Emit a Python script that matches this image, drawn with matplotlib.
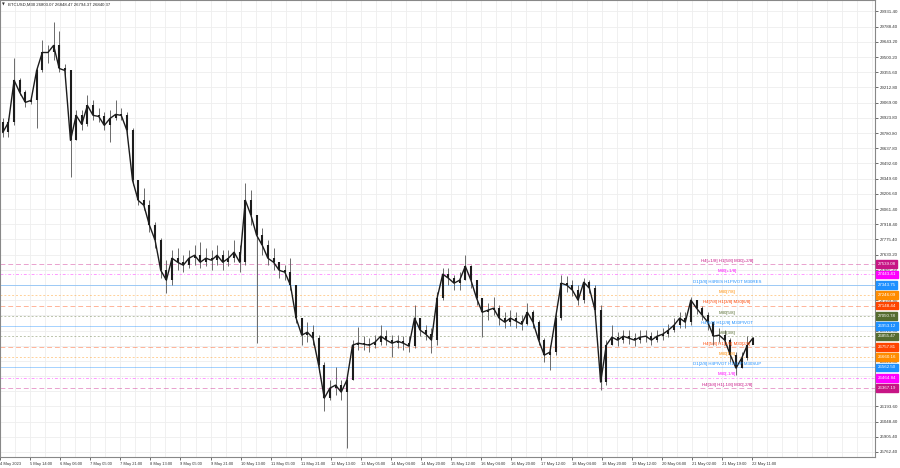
import matplotlib
matplotlib.use("Agg")
import matplotlib.pyplot as plt
import matplotlib.transforms as mtransforms

# ---------------- data ----------------
chart_title = "BTCUSD,M30 26803.07 26848.47 26794.37 26840.37"

bars_per_candle = 6          # each drawn candle aggregates 6 M30 bars (3 hours)
first_open = 28882

close = [28787, 28882, 29279, 29165, 29071, 29090, 29373, 29543, 29543, 29610,
         29392, 29373, 28711, 28948, 28863, 29042, 28948, 28938, 28853, 28919,
         28957, 28948, 28806, 28333, 28144, 28097, 27908, 27766, 27482, 27388,
         27596, 27558, 27530, 27596, 27624, 27558, 27596, 27577, 27624, 27558,
         27596, 27653, 27558, 28144, 28002, 27813, 27719, 27596, 27558, 27482,
         27464, 27341, 27029, 26868, 26896, 26840, 26584, 26272, 26367, 26395,
         26329, 26442, 26773, 26792, 26783, 26773, 26802, 26858, 26821, 26792,
         26811, 26792, 26764, 27029, 26915, 26877, 26821, 27218, 27445, 27407,
         27360, 27388, 27520, 27388, 27218, 27085, 27104, 27123, 27029, 26991,
         27029, 27000, 26972, 27085, 26991, 26821, 26679, 26707, 27029, 27360,
         27341, 27293, 27199, 27369, 27312, 27104, 26424, 26773, 26849, 26821,
         26858, 26840, 26821, 26849, 26858, 26821, 26858, 26877, 26915, 26962,
         27029, 26991, 27199, 27123, 27057, 26991, 26858, 26868, 26821, 26679,
         26556, 26650, 26773, 26840.37]
high = [28919, 28919, 29487, 29298, 29184, 29127, 29392, 29657, 29610, 29827,
        29751, 29430, 29373, 28995, 28995, 29137, 29090, 29014, 28976, 28995,
        29090, 29014, 28976, 28825, 28305, 28258, 28144, 27936, 27785, 27577,
        27671, 27690, 27624, 27671, 27719, 27747, 27690, 27671, 27719, 27671,
        27671, 27766, 27719, 28305, 28239, 28002, 27879, 27766, 27690, 27558,
        27530, 27596, 27341, 27029, 26991, 26962, 26868, 26613, 26442, 26565,
        26442, 26490, 26821, 26944, 26858, 26840, 26868, 26962, 26915, 26868,
        26868, 26858, 26858, 27152, 27029, 26962, 26934, 27274, 27501, 27501,
        27435, 27464, 27624, 27530, 27388, 27199, 27170, 27227, 27152, 27085,
        27104, 27085, 27057, 27170, 27104, 27010, 26840, 26773, 27085, 27435,
        27426, 27388, 27341, 27407, 27388, 27341, 27152, 26821, 26962, 26896,
        26915, 26915, 26887, 26915, 26915, 26896, 26915, 26934, 26972, 27029,
        27085, 27085, 27227, 27199, 27142, 27085, 26991, 26934, 26915, 26840,
        26707, 26707, 26858, 26848.47]
low = [28740, 28740, 28853, 29137, 29023, 29052, 28825, 29354, 29439, 29468,
       29354, 29298, 28362, 28711, 28806, 28844, 28901, 28882, 28806, 28693,
       28901, 28901, 28768, 28286, 28097, 28050, 27842, 27690, 27407, 27265,
       27341, 27482, 27464, 27501, 27530, 27501, 27520, 27482, 27530, 27482,
       27520, 27558, 27464, 27530, 27908, 26792, 27624, 27530, 27482, 27407,
       27388, 27293, 26981, 26773, 26802, 26773, 26518, 26149, 26253, 26301,
       26253, 25800, 26442, 26726, 26726, 26707, 26745, 26773, 26773, 26660,
       26745, 26726, 26707, 26745, 26858, 26821, 26698, 26773, 27199, 27341,
       27293, 27293, 27388, 27312, 27152, 26849, 27010, 27057, 26962, 26934,
       26953, 26934, 26915, 26962, 26934, 26773, 26613, 26537, 26679, 27010,
       27274, 27237, 27152, 27170, 27265, 27029, 26348, 26395, 26773, 26764,
       26792, 26783, 26764, 26792, 26802, 26773, 26802, 26821, 26849, 26896,
       26934, 26934, 26962, 27066, 27010, 26915, 26773, 26802, 26773, 26613,
       26490, 26556, 26632, 26794.37]

time_labels = ["4 May 2023", "5 May 14:00", "6 May 06:00", "7 May 05:00", "7 May 21:00",
               "8 May 13:00", "9 May 05:00", "9 May 21:00", "10 May 13:00", "11 May 05:00",
               "11 May 21:00", "12 May 13:00", "13 May 05:00", "14 May 04:00", "14 May 20:00",
               "15 May 12:00", "16 May 04:00", "16 May 20:00", "17 May 12:00", "18 May 04:00",
               "18 May 20:00", "19 May 12:00", "20 May 04:00", "21 May 02:00", "21 May 19:00",
               "22 May 11:00"]
bars_per_time_label = 32

price_ticks = [29931.40, 29788.40, 29643.20, 29500.20, 29355.60, 29212.80, 29069.00,
               28923.80, 28780.80, 28637.80, 28492.60, 28349.60, 28206.60, 28061.40,
               27918.40, 27775.40, 27630.20, 27487.20, 27342.00, 27199.80, 27054.60,
               26910.00, 26766.40, 26623.40, 26480.40, 26335.20, 26193.60, 26048.40,
               25905.40, 25762.40]

level_prices = [27539.08, 27443.41, 27343.75, 27246.09, 27148.44, 27050.78, 26953.12,
                26855.47, 26757.81, 26660.16, 26562.50, 26464.84, 26367.19]
level_names = ["H4[+1/8] H1[5/8] M30[+2/8]", "M30[+1/8]", "D1[3/8] H4RES H1PIVOT M30RES",
               "M30[7/8]", "H4[7/8] H1[3/8] M30[6/8]", "M30[5/8]", "H4[6/8] H1[2/8] M30PIVOT",
               "M30[3/8]", "H4[5/8] H1[1/8] M30[2/8]", "M30[1/8]", "D1[2/8] H4PIVOT H1SUP M30SUP",
               "M30[-1/8]", "H4[3/8] H1[-1/8] M30[-2/8]"]
level_colors = ["#c71585", "#ff00ff", "#1e90ff", "#ff8c00", "#ff4500", "#556b2f", "#1e90ff",
                "#556b2f", "#ff4500", "#ff8c00", "#1e90ff", "#ff00ff", "#c71585"]
level_styles = [(0, (5, 3)), (0, (3, 2, 1, 2)), "-", (0, (2, 2)), (0, (5, 3)), (0, (2, 2)), "-",
                (0, (2, 2)), (0, (5, 3)), (0, (2, 2)), "-", (0, (3, 2, 1, 2)), (0, (5, 3))]

# ---------------- figure ----------------
plt.rcParams['font.family'] = ['Liberation Sans', 'DejaVu Sans']
W, H = 900, 468
fig = plt.figure(figsize=(W / 100, H / 100), dpi=100)
plot_right_px, plot_bottom_px = 875, 457
ax = fig.add_axes([0.0, 1 - plot_bottom_px / H, plot_right_px / W, plot_bottom_px / H - 0.001])

px_per_bar = 0.94
ax.set_xlim(0, plot_right_px / px_per_bar)
ax.set_ylim(25714.9, 30035.4)

# grid
for j in range(0, 60):
    ax.axvline(j * bars_per_time_label / 2, color="#eeeeee", lw=0.6, zorder=0)
for p in price_ticks:
    ax.axhline(p, color="#eeeeee", lw=0.6, zorder=0)

# levels
for p, c, ls in zip(level_prices, level_colors, level_styles):
    ax.axhline(p, color=c, lw=0.7, ls=ls, alpha=0.4, zorder=1)

# candles
opens = [first_open] + close[:-1]
xs = [bars_per_candle * k + bars_per_candle / 2 for k in range(len(close))]
ax.vlines(xs, low, high, color="#6a6a6a", lw=0.7, zorder=3)
lo_body = [min(o, c) for o, c in zip(opens, close)]
hi_body = [max(o, c) for o, c in zip(opens, close)]
ax.vlines(xs, lo_body, [max(h, l + 8) for h, l in zip(hi_body, lo_body)],
          color="#1c1c1c", lw=1.5, zorder=4)
ax.plot(xs, close, color="#1c1c1c", lw=1.0, zorder=4)

# level text on chart
label_center = 727 / px_per_bar
for p, c, name in zip(level_prices, level_colors, level_names):
    ax.text(label_center, p + 12, name, color=c, fontsize=3.2, ha="center", va="bottom", zorder=5)

# right axis
ax.yaxis.tick_right()
ax.set_yticks(price_ticks)
ax.set_yticklabels([f"{p:.2f}" for p in price_ticks])
ax.tick_params(axis="y", length=2, pad=1.2, labelsize=3.2, colors="#333333", width=0.5)

# time axis
ax.set_xticks([j * bars_per_time_label for j in range(len(time_labels))])
ax.set_xticklabels(time_labels)
for lbl in ax.get_xticklabels():
    lbl.set_ha("left")
ax.tick_params(axis="x", length=2, pad=1.5, labelsize=2.9, colors="#333333", width=0.5)

for s in ax.spines.values():
    s.set_color("#888888")
    s.set_linewidth(0.8)

# price boxes on the right axis
trans = mtransforms.blended_transform_factory(ax.transAxes, ax.transData)
for p, c in zip(level_prices, level_colors):
    ax.text(1.003, p, f"{p:.2f}", transform=trans, color="white", fontsize=3.2,
            ha="left", va="center", clip_on=False, zorder=10,
            bbox=dict(boxstyle="square,pad=0.4", facecolor=c, edgecolor=c))

# title
fig.text(2 / W, 1 - 5 / H, "\u25BC", fontsize=2.6, color="#333333", va="center", ha="left",
         family="DejaVu Sans")
fig.text(8 / W, 1 - 5 / H, chart_title, fontsize=3.1, color="#222222", va="center", ha="left")

fig.savefig("out.png", dpi=100, facecolor="white")
